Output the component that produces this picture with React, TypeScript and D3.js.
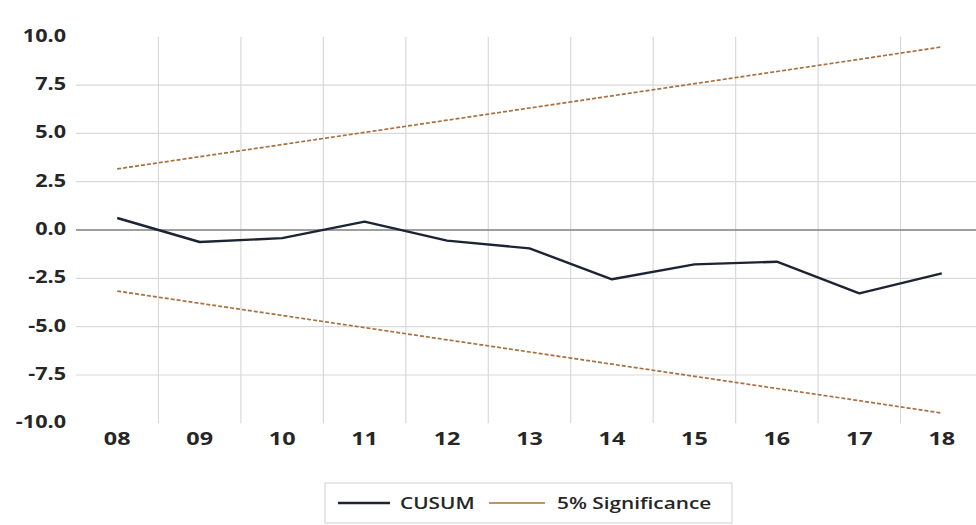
import React from "react";
import * as d3 from "d3";

const categories = ["08", "09", "10", "11", "12", "13", "14", "15", "16", "17", "18"];
const cusum = [0.62, -0.62, -0.42, 0.43, -0.55, -0.95, -2.55, -1.78, -1.64, -3.28, -2.24];
const upper = [3.16, 3.79, 4.42, 5.05, 5.68, 6.31, 6.94, 7.57, 8.2, 8.83, 9.47];
const lower = [-3.16, -3.79, -4.42, -5.05, -5.68, -6.31, -6.94, -7.57, -8.2, -8.83, -9.47];
const yTicks = [10, 7.5, 5, 2.5, 0, -2.5, -5, -7.5, -10];
const legendLabels = ["CUSUM", "5% Significance"];

const W = 976;
const H = 525;
const plotLeft = 76;
const plotRight = 983;
const SX = 1.3;
const FONT = "'Open Sans', 'Liberation Sans', sans-serif";

export default function App() {
  const x = d3.scaleBand<string>().domain(categories).range([plotLeft, plotRight]).padding(0);
  const y = d3.scaleLinear().domain([-10, 10]).range([423.3, 36.7]);
  const cx = (c: string) => (x(c) as number) + x.bandwidth() / 2;

  const line = d3
    .line<number>()
    .x((_, i) => cx(categories[i]))
    .y((d) => y(d));

  const boundaries = categories.slice(1).map((c) => x(c) as number);

  return (
    <svg width={W} height={H} style={{ position: "absolute", left: 0, top: 0, background: "#fff" }}>
      <rect x={0} y={0} width={W} height={H} fill="#fff" />
      {yTicks
        .filter((t) => t !== 0 && t !== 10 && t !== -10)
        .map((t) => (
          <line key={t} x1={plotLeft} x2={W} y1={y(t)} y2={y(t)} stroke="#d9d9d9" strokeWidth={1.2} />
        ))}
      {boundaries.map((b, i) => (
        <line key={i} x1={b} x2={b} y1={y(10)} y2={y(-10)} stroke="#d9d9d9" strokeWidth={1.2} />
      ))}
      <line x1={plotLeft} x2={W} y1={y(0)} y2={y(0)} stroke="#7f7f7f" strokeWidth={1.5} />
      <path d={line(upper) || ""} fill="none" stroke="#a8703f" strokeWidth={1.7} strokeDasharray="4,2" />
      <path d={line(lower) || ""} fill="none" stroke="#a8703f" strokeWidth={1.7} strokeDasharray="4,2" />
      <path d={line(cusum) || ""} fill="none" stroke="#1c2433" strokeWidth={2.4} strokeLinejoin="round" />
      {yTicks.map((t) => (
        <text
          key={t}
          transform={`translate(66,${y(t) + 5}) scale(1.2,1)`}
          textAnchor="end"
          fontFamily={FONT}
          fontWeight={700}
          fontSize={18}
          fill="#262626"
        >
          {t.toFixed(1)}
        </text>
      ))}
      {categories.map((c) => (
        <text
          key={c}
          transform={`translate(${cx(c)},${445}) scale(${SX},1)`}
          textAnchor="middle"
          fontFamily={FONT}
          fontWeight={700}
          fontSize={18}
          fill="#262626"
        >
          {c}
        </text>
      ))}
      <rect x={325} y={483} width={407} height={40} fill="#fff" stroke="#d0d0d0" strokeWidth={1} />
      <line x1={338} x2={390} y1={503} y2={503} stroke="#1c2433" strokeWidth={2.4} />
      <text
        transform={`translate(400,509) scale(${SX},1)`}
        fontFamily={FONT}
        fontWeight={600}
        fontSize={16}
        fill="#262626"
      >
        {legendLabels[0]}
      </text>
      <line x1={489} x2={545} y1={503} y2={503} stroke="#a8703f" strokeWidth={1.6} />
      <text
        transform={`translate(557,509) scale(${SX},1)`}
        fontFamily={FONT}
        fontWeight={600}
        fontSize={16}
        fill="#262626"
      >
        {legendLabels[1]}
      </text>
    </svg>
  );
}
